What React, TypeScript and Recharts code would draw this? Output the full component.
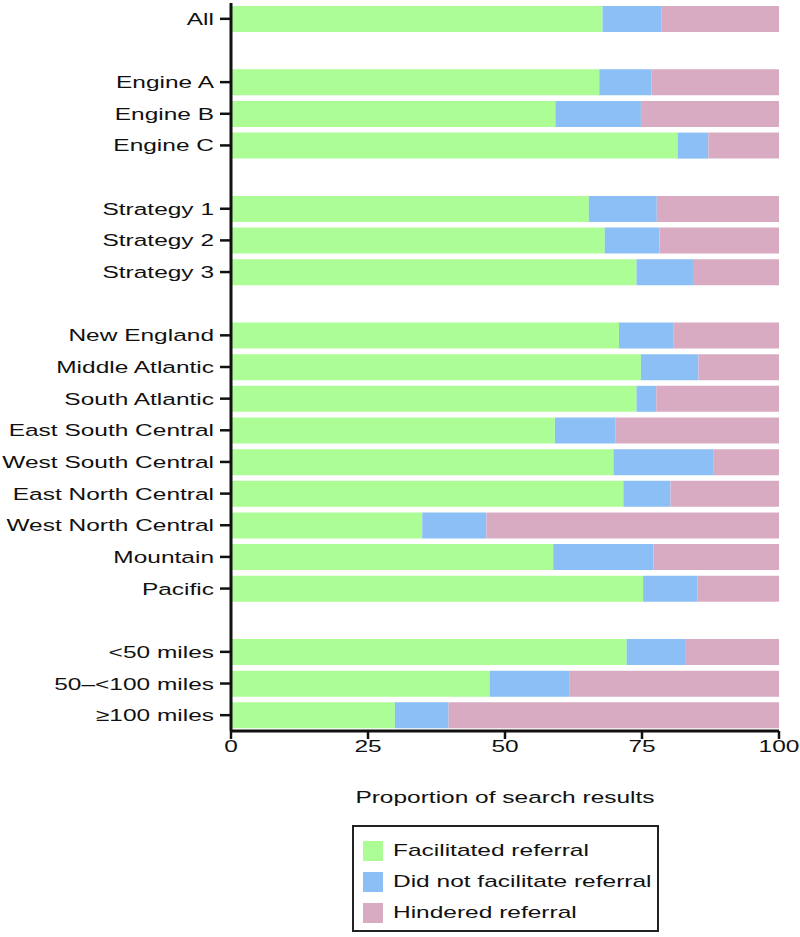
import React from "react";
import { BarChart, Bar, XAxis, YAxis, Legend, Label } from "recharts";

const categories = [
  "All", "", "Engine A", "Engine B", "Engine C", " ",
  "Strategy 1", "Strategy 2", "Strategy 3", "  ",
  "New England", "Middle Atlantic", "South Atlantic", "East South Central",
  "West South Central", "East North Central", "West North Central", "Mountain", "Pacific", "   ",
  "<50 miles", "50\u2013<100 miles", "\u2265100 miles",
];

const facilitated = [
  67.8, null, 67.2, 59.2, 81.5, null,
  65.3, 68.2, 74.0, null,
  70.8, 74.8, 74.0, 59.1, 69.8, 71.6, 34.9, 58.8, 75.2, null,
  72.2, 47.2, 29.9,
];
const didNotFacilitate = [
  10.8, null, 9.5, 15.6, 5.6, null,
  12.4, 10.0, 10.3, null,
  10.0, 10.5, 3.6, 11.1, 18.3, 8.6, 11.7, 18.3, 9.9, null,
  10.8, 14.5, 9.8,
];
const hindered = [
  21.4, null, 23.3, 25.2, 12.9, null,
  22.3, 21.8, 15.7, null,
  19.2, 14.7, 22.4, 29.8, 11.9, 19.8, 53.4, 22.9, 14.9, null,
  17.0, 38.3, 60.3,
];

const xTicks = [0, 25, 50, 75, 100];

const seriesNames = ["Facilitated referral", "Did not facilitate referral", "Hindered referral"];
const colors = ["#acfd95", "#8bbff5", "#d8abc3"];

const data = categories.map((name, i) => ({
  name,
  facilitated: facilitated[i],
  didNot: didNotFacilitate[i],
  hindered: hindered[i],
}));

const FONT = "'Liberation Sans', Arial, Helvetica, sans-serif";
const STRETCH = 1.44;

const YTick = (props: any) => {
  const { x, y, payload } = props;
  const label = String(payload.value);
  if (label.trim() === "") return null;
  return (
    <g>
      <line x1={x} x2={x + 11} y1={y} y2={y} stroke="#111" strokeWidth={2.5} />
      <text
        transform={`translate(${x - 6},${y}) scale(${STRETCH},1)`}
        textAnchor="end"
        dominantBaseline="central"
        fontSize={17}
        fontFamily={FONT}
        fill="#111"
      >
        {label}
      </text>
    </g>
  );
};

const XTick = (props: any) => {
  const { x, y, payload } = props;
  return (
    <text
      transform={`translate(${x},${y + 5}) scale(${STRETCH},1)`}
      textAnchor="middle"
      dominantBaseline="central"
      fontSize={17}
      fontFamily={FONT}
      fill="#111"
    >
      {payload.value}
    </text>
  );
};

const renderLegend = () => (
  <div
    style={{
      boxSizing: "border-box",
      width: 307,
      height: 107,
      border: "2px solid #222",
      background: "#fff",
      position: "relative",
      fontFamily: FONT,
    }}
  >
    {seriesNames.map((n, i) => (
      <div
        key={n}
        style={{
          position: "absolute",
          left: 9,
          top: 14 + i * 31,
          height: 20,
          display: "flex",
          alignItems: "center",
        }}
      >
        <div style={{ width: 20, height: 20, background: colors[i] }} />
        <span
          style={{
            display: "inline-block",
            marginLeft: 10,
            fontSize: 17,
            color: "#111",
            whiteSpace: "nowrap",
            transform: `scaleX(${STRETCH})`,
            transformOrigin: "left center",
          }}
        >
          {n}
        </span>
      </div>
    ))}
  </div>
);

export default function App() {
  return (
    <div style={{ position: "absolute", left: 0, top: 0, width: 800, height: 937, background: "#fff" }}>
      <BarChart
        width={800}
        height={937}
        data={data}
        layout="vertical"
        margin={{ top: 3, right: 21, bottom: 24, left: 0 }}
      >
        <XAxis
          type="number"
          domain={[0, 100]}
          ticks={xTicks}
          height={75}
          tickSize={8}
          tickMargin={2}
          axisLine={{ stroke: "#111", strokeWidth: 3 }}
          tickLine={{ stroke: "#111", strokeWidth: 2.5 }}
          tick={<XTick />}
          interval={0}
        >
          <Label
            content={(p: any) => {
              const vb = p.viewBox;
              return (
                <text
                  transform={`translate(${vb.x + vb.width / 2},${vb.y + 66}) scale(${STRETCH},1)`}
                  textAnchor="middle"
                  dominantBaseline="central"
                  fontSize={17}
                  fontFamily={FONT}
                  fill="#111"
                >
                  Proportion of search results
                </text>
              );
            }}
          />
        </XAxis>
        <YAxis
          type="category"
          dataKey="name"
          width={231}
          tickLine={false}
          tickSize={11}
          tickMargin={0}
          axisLine={{ stroke: "#111", strokeWidth: 3 }}
          tick={<YTick />}
          interval={0}
        />
        <Legend
          verticalAlign="bottom"
          content={renderLegend}
          wrapperStyle={{ position: "absolute", left: 352, top: 825, width: 307, height: 107, bottom: "auto" }}
        />
        <Bar dataKey="facilitated" stackId="a" fill={colors[0]} barSize={26} isAnimationActive={false} />
        <Bar dataKey="didNot" stackId="a" fill={colors[1]} barSize={26} isAnimationActive={false} />
        <Bar dataKey="hindered" stackId="a" fill={colors[2]} barSize={26} isAnimationActive={false} />
      </BarChart>
    </div>
  );
}
